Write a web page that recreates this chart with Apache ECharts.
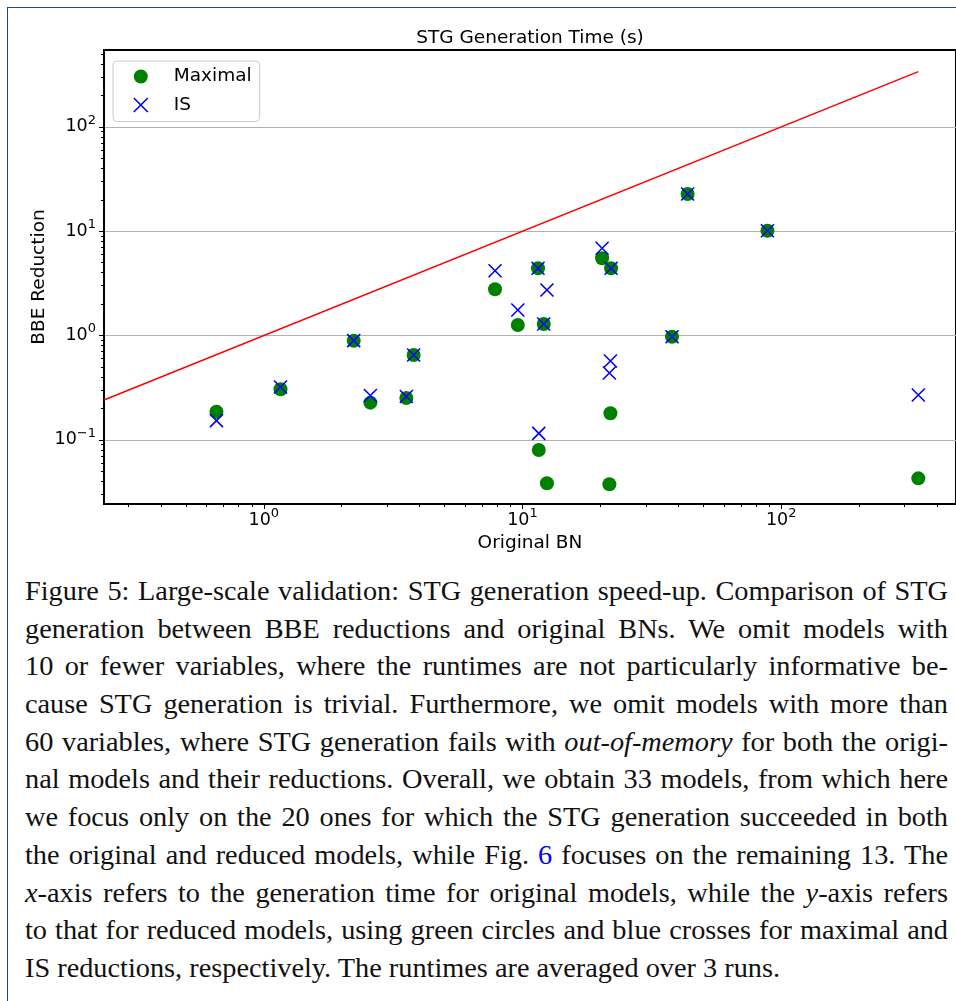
<!DOCTYPE html>
<html><head><meta charset="utf-8">
<script src="https://cdn.jsdelivr.net/npm/echarts@6/dist/echarts.min.js"></script>
<style>
html,body{margin:0;padding:0;background:#fff;width:956px;height:1001px;overflow:hidden;}
#frame{position:absolute;left:7px;top:7px;width:980px;height:1010px;border-left:1px solid #1f4a7c;border-top:1px solid #1f4a7c;box-sizing:border-box;}
#chart{position:absolute;left:0;top:0;width:956px;height:560px;}
#cap{position:absolute;left:25px;top:572px;width:923px;font-family:"Liberation Serif",serif;font-size:28.3px;color:#111;}
#cap div{height:37.7px;line-height:37.7px;white-space:nowrap;text-align:justify;text-align-last:justify;}
#cap div.last{text-align:left;text-align-last:left;}
.blue{color:#0000ff;}
</style></head>
<body>
<div id="frame"></div>
<div id="chart"></div>
<div id="cap">
<div>Figure 5: Large-scale validation: STG generation speed-up. Comparison of STG</div>
<div>generation between BBE reductions and original BNs. We omit models with</div>
<div>10 or fewer variables, where the runtimes are not particularly informative be-</div>
<div>cause STG generation is trivial. Furthermore, we omit models with more than</div>
<div>60 variables, where STG generation fails with <i>out-of-memory</i> for both the origi-</div>
<div>nal models and their reductions. Overall, we obtain 33 models, from which here</div>
<div>we focus only on the 20 ones for which the STG generation succeeded in both</div>
<div>the original and reduced models, while Fig. <span class="blue">6</span> focuses on the remaining 13. The</div>
<div><i>x</i>-axis refers to the generation time for original models, while the <i>y</i>-axis refers</div>
<div>to that for reduced models, using green circles and blue crosses for maximal and</div>
<div class="last">IS reductions, respectively. The runtimes are averaged over 3 runs.</div>
</div>
<script>
// ---- data (seconds) ----
const originalBN = [0.656, 1.160, 2.226, 2.582, 3.556, 3.795, 7.832, 9.592, 11.48, 11.56,
                    12.08, 12.43, 20.31, 21.67, 21.87, 22.00, 37.84, 43.48, 88.5, 338.9];
const maximalRed = [0.186, 0.305, 0.892, 0.227, 0.252, 0.650, 2.773, 1.261, 4.41, 0.0798,
                    1.289, 0.0383, 5.50, 0.0375, 0.1795, 4.41, 0.974, 22.74, 10.11, 0.0427];
const isRed      = [0.1525, 0.321, 0.892, 0.266, 0.260, 0.650, 4.18, 1.756, 4.41, 0.1154,
                    1.289, 2.731, 6.86, 0.437, 0.569, 4.41, 0.974, 22.74, 10.11, 0.269];
const diagonal   = [0.2411, 338.9];          // y = x reference line ends
const xMajor = [1, 10, 100];
const yMajor = [0.1, 1, 10, 100];
const xMinor = [0.3,0.4,0.5,0.6,0.7,0.8,0.9, 2,3,4,5,6,7,8,9, 20,30,40,50,60,70,80,90, 200,300,400];
const yMinor = [0.03,0.04,0.05,0.06,0.07,0.08,0.09, 0.2,0.3,0.4,0.5,0.6,0.7,0.8,0.9,
                2,3,4,5,6,7,8,9, 20,30,40,50,60,70,80,90, 200,300,400,500];
const xLimits = [0.2411, 474];
const yLimits = [0.02424, 546];

const FONT = 'DejaVu Sans';
const xPath = 'path://M0,0L10,10M10,0L0,10';
function logLabel(v){
  const e = Math.round(Math.log10(v));
  return '{b|10}{s|' + String(e).replace('-', '\u2212') + '}';
}
const rich = {
  b: {fontSize: 17.5, lineHeight: 26, fontFamily: FONT, color: '#000'},
  s: {fontSize: 13, verticalAlign: 'top', fontFamily: FONT, color: '#000'}
};
const chart = echarts.init(document.getElementById('chart'), null, {renderer: 'canvas'});
const option = {
  animation: false,
  backgroundColor: 'transparent',
  textStyle: {fontFamily: FONT},
  title: {
    text: 'STG Generation Time (s)', left: 530, top: 29, textAlign: 'center', padding: 0,
    textStyle: {fontSize: 18.5, fontWeight: 'normal', fontFamily: FONT, color: '#000'}
  },
  legend: {
    left: 113, top: 61, orient: 'vertical', padding: [6, 8, 7, 20], itemGap: 9.5,
    itemWidth: 36, itemHeight: 14,
    backgroundColor: 'rgba(255,255,255,0.8)', borderColor: '#cccccc', borderWidth: 1, borderRadius: 4,
    textStyle: {fontSize: 18.5, fontFamily: FONT, color: '#000', padding: [0, 0, 0, 10]},
    data: [
      {name: 'Maximal', icon: 'circle', itemStyle: {color: '#008000'}},
      {name: 'IS', icon: xPath, itemStyle: {color: '#0000ff', borderColor: '#0000ff', borderWidth: 1.6}}
    ]
  },
  grid: {left: 104, top: 50, right: -1, bottom: 56, show: true, borderColor: '#000', borderWidth: 2, backgroundColor: 'transparent'},
  xAxis: [
    {
      type: 'log', min: xLimits[0], max: xLimits[1], position: 'bottom',
      name: 'Original BN', nameLocation: 'middle', nameGap: 28,
      nameTextStyle: {fontSize: 18.5, fontFamily: FONT, color: '#000'},
      axisLine: {show: true, onZero: false, lineStyle: {color: '#000', width: 2}},
      axisTick: {show: true, customValues: xMajor, length: 5, lineStyle: {color: '#000', width: 1}},
      axisLabel: {show: true, customValues: xMajor, formatter: logLabel, rich: rich, margin: 3},
      splitLine: {show: false}
    },
    {
      type: 'log', min: xLimits[0], max: xLimits[1], position: 'bottom',
      axisLine: {show: false},
      axisTick: {show: true, customValues: xMinor, length: 3, lineStyle: {color: '#000', width: 1}},
      axisLabel: {show: false}, splitLine: {show: false}
    }
  ],
  yAxis: [
    {
      type: 'log', min: yLimits[0], max: yLimits[1], position: 'left',
      name: 'BBE Reduction', nameLocation: 'middle', nameGap: 55, nameMoveOverlap: false,
      nameTextStyle: {fontSize: 18.5, fontFamily: FONT, color: '#000'},
      axisLine: {show: true, onZero: false, lineStyle: {color: '#000', width: 2}},
      axisTick: {show: true, customValues: yMajor, length: 5, lineStyle: {color: '#000', width: 1}},
      axisLabel: {show: true, customValues: yMajor, formatter: logLabel, rich: rich, margin: 8},
      splitLine: {show: true, lineStyle: {color: '#b0b0b0', width: 1}}
    },
    {
      type: 'log', min: yLimits[0], max: yLimits[1], position: 'left',
      axisLine: {show: false},
      axisTick: {show: true, customValues: yMinor, length: 3, lineStyle: {color: '#000', width: 1}},
      axisLabel: {show: false}, splitLine: {show: false}
    }
  ],
  series: [
    {
      type: 'line', name: 'y = x', data: diagonal.map(v => [v, v]), symbol: 'none', showSymbol: false,
      lineStyle: {color: '#ff0000', width: 1.5}, z: 1, silent: true, emphasis: {disabled: true}
    },
    {
      type: 'scatter', name: 'Maximal', data: originalBN.map((x, i) => [x, maximalRed[i]]),
      symbol: 'circle', symbolSize: 14, itemStyle: {color: '#008000', opacity: 1}, z: 2,
      emphasis: {disabled: true}
    },
    {
      type: 'scatter', name: 'IS', data: originalBN.map((x, i) => [x, isRed[i]]),
      symbol: xPath, symbolSize: 13,
      itemStyle: {color: '#0000ff', borderColor: '#0000ff', borderWidth: 1.6, opacity: 1}, z: 3,
      emphasis: {disabled: true}
    }
  ]
};
chart.setOption(option);
</script>
</body></html>
